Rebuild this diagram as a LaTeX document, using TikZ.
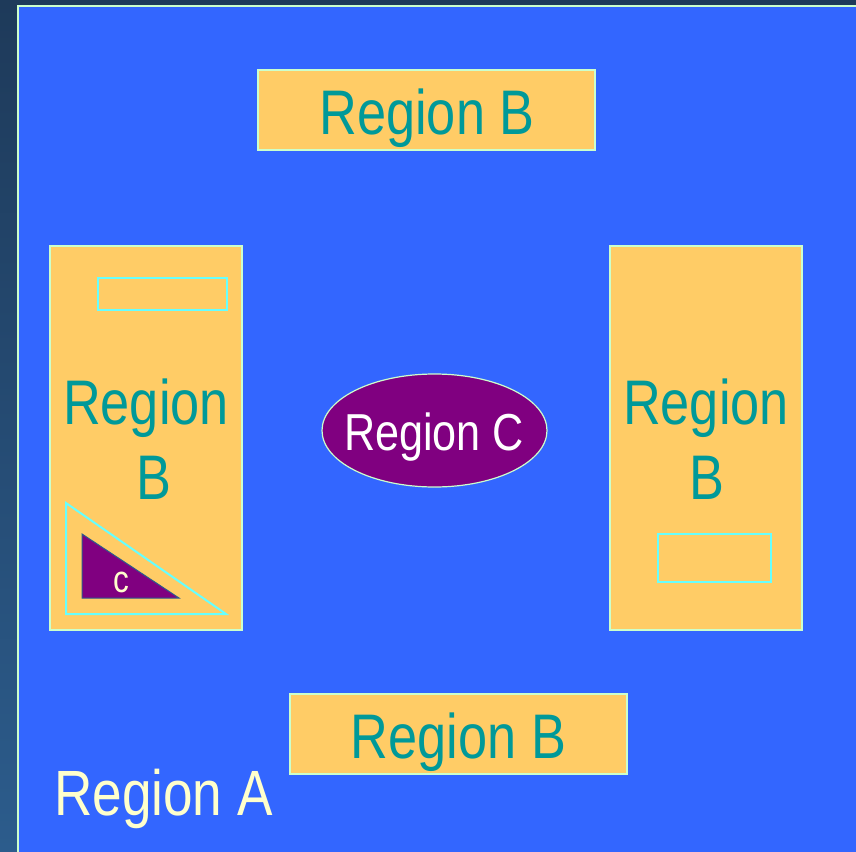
\documentclass[tikz,border=0pt]{standalone}
\usepackage{fontspec}
\setmainfont{Liberation Sans}
\newfontfamily\narrowfont[FakeStretch=0.83]{Liberation Sans}
\usetikzlibrary{shapes.geometric}
\definecolor{bgblue}{HTML}{3366FF}
\definecolor{boxorange}{HTML}{FFCC66}
\definecolor{edgegreen}{HTML}{CCFFCC}
\definecolor{tealtext}{HTML}{009999}
\definecolor{cyanline}{HTML}{66FFFF}
\definecolor{regpurple}{HTML}{800080}
\definecolor{creamtext}{HTML}{FFFFCC}
\definecolor{navytop}{HTML}{1E3A5A}
\definecolor{navybot}{HTML}{2C5C8C}
\tikzset{
  boxB/.style={draw=edgegreen, line width=1.2pt, fill=boxorange, inner sep=0pt},
  outline/.style={draw=cyanline, line width=2pt},
  btext/.style={font=\narrowfont\fontsize{63}{63}\selectfont, text=tealtext, inner sep=0pt, anchor=base},
}
\begin{document}
\begin{tikzpicture}[x=1pt,y=-1pt]
\useasboundingbox (0,0) rectangle (856,851);
% background
\shade[top color=navytop, bottom color=navybot] (0,0) rectangle (856,851);
\fill[bgblue] (18,6) rectangle (860,855);
\draw[edgegreen, line width=1.5pt] (18,855) -- (18,6) -- (860,6);
% Region B boxes
\node[boxB, minimum width=337pt, minimum height=80pt] (btop) at (426.5,110) {};
\node[boxB, minimum width=337pt, minimum height=80pt] (bbot) at (458.5,734) {};
\node[boxB, minimum width=192pt, minimum height=384pt] (bleft) at (146,438) {};
\node[boxB, minimum width=192pt, minimum height=384pt] (bright) at (706,438) {};
% small outlined shapes
\node[outline, minimum width=129pt, minimum height=32pt, inner sep=0pt] (sleft) at (162.5,294) {};
\node[outline, minimum width=113pt, minimum height=48pt, inner sep=0pt] (sright) at (714.5,558) {};
\draw[outline] (66,503) -- (66,614) -- (226,614) -- cycle;
\draw[fill=regpurple, draw=navybot, line width=1pt] (82,534) -- (82,598) -- (179,598) -- cycle;
\node[font=\narrowfont\fontsize{38}{38}\selectfont, text=creamtext, inner sep=0pt, anchor=base] (ctext) at (121,592) {c};
% Region C
\node[ellipse, draw=edgegreen, line width=1.2pt, fill=regpurple, minimum width=225pt, minimum height=113pt, inner sep=0pt] (rc) at (434.5,430.5) {};
\node[font=\narrowfont\fontsize{52}{52}\selectfont, text=white, inner sep=0pt, anchor=base] (rctext) at (434,450) {Region C};
% texts
\node[btext] (tbtop) at (427,134) {Region B};
\node[btext] (tbbot) at (458.5,758) {Region B};
\node[btext] (tbl1) at (146,424) {Region};
\node[btext] (tbl2) at (153.5,499) {B};
\node[btext] (tbr1) at (706,424) {Region};
\node[btext] (tbr2) at (707,499) {B};
\node[font=\narrowfont\fontsize{64}{64}\selectfont, text=creamtext, inner sep=0pt, anchor=base] (ra) at (163.5,815) {Region A};
\end{tikzpicture}
\end{document}
